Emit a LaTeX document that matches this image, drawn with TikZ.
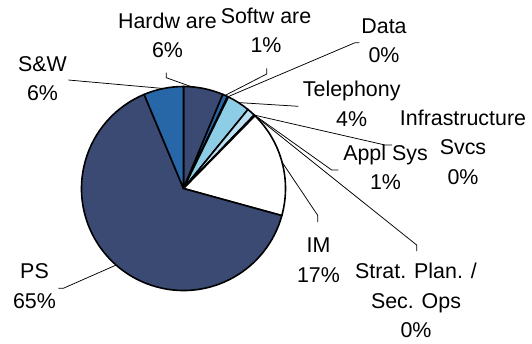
\documentclass[tikz,border=0pt]{standalone}
\usepackage{fontspec}
\setmainfont{Liberation Sans}
\usetikzlibrary{calc}

\definecolor{navy}{RGB}{58,74,115}
\definecolor{midblue}{RGB}{40,103,167}
\definecolor{skyblue}{RGB}{142,205,230}
\definecolor{paleblue}{RGB}{186,223,241}

\tikzset{
  wedge/.style={draw=black, line width=1.6pt, line join=round},
  leader/.style={draw=black, line width=0.75pt},
  % multi-line labels sit on the baseline of their last line
  lbl/.style={font=\fontsize{21.4}{29.5}\selectfont, align=center, anchor=base, inner sep=0pt}
}

% one wedge of the pie: start angle, end angle, fill colour
\newcommand{\piewedge}[3]{%
  \filldraw[wedge, fill=#3] (C) -- ($(C)+(#1:102)$) arc[start angle=#1, end angle=#2, radius=102] -- cycle;}

\begin{document}
\begin{tikzpicture}[x=1pt, y=-1pt]
\useasboundingbox (0,0) rectangle (532,343);
\coordinate (C) at (183.5,188.5);

% wedges, clockwise from twelve o'clock
\piewedge{-90}{-67.3}{navy}      % Hardware
\piewedge{-67.3}{-64.4}{midblue} % Software
\piewedge{-64.4}{-63.9}{white}   % Data
\piewedge{-63.9}{-50.8}{skyblue} % Telephony
\piewedge{-50.8}{-46.1}{paleblue}% Appl Sys
\piewedge{-46.1}{-45.8}{white}   % Infrastructure Svcs
\piewedge{-45.8}{-45.5}{white}   % Strat. Plan. / Sec. Ops
\piewedge{-45.5}{15.4}{white}    % IM
\piewedge{15.4}{247.3}{navy}     % PS
\piewedge{247.3}{270}{midblue}   % S&W

% labels
\node[lbl] (hw)   at (167.5,57.8)  {Hardw are\\6\%};
\node[lbl] (sw)   at (266,52.8)    {Softw are\\1\%};
\node[lbl] (data) at (384,62.8)    {Data\\0\%};
\node[lbl] (tel)  at (351.7,126.2) {Telephony\\4\%};
\node[lbl] (inf)  at (463,184)     {Infrastructure\\Svcs\\0\%};
\node[lbl] (appl) at (385.5,189.5) {Appl Sys\\1\%};
\node[lbl] (im)   at (318.5,282)   {IM\\17\%};
\node[lbl] (sp)   at (416,337.5)   {Strat. Plan. /\\Sec. Ops\\0\%};
\node[lbl] (ps)   at (34.5,308)    {PS\\65\%};
\node[lbl] (saw)  at (42.5,100.5)  {S\&W\\6\%};

% leader line end points on the rim
\coordinate (hwR)   at ($(C)+(-85.4:102)$);
\coordinate (swR)   at ($(C)+(-65.9:102)$);
\coordinate (dataR) at ($(C)+(-64.15:102)$);
\coordinate (telR)  at ($(C)+(-57.4:102)$);
\coordinate (applR) at ($(C)+(-46.5:102)$);
\coordinate (infR)  at ($(C)+(-46.0:102)$);
\coordinate (spR)   at ($(C)+(-45.6:102)$);
\coordinate (imR)   at ($(C)+(-15:102)$);
\coordinate (psR)   at ($(C)+(131.35:102)$);
\coordinate (sawR)  at ($(C)+(258.65:102)$);

% leader line ends beside the labels
\coordinate (hwA) at (166.3,72.7);   \coordinate (hwB) at (166.3,77.7);
\coordinate (swA) at (266.7,68.3);   \coordinate (swB) at (266.7,74);
\coordinate (dataA) at (359.3,42.7); \coordinate (dataB) at (355,42.7);
\coordinate (telA) at (298.3,106.3);
\coordinate (applA) at (338.3,170);  \coordinate (applB) at (331.7,170);
\coordinate (infA) at (392,145);     \coordinate (infB) at (385,145);
\coordinate (spA) at (416.7,251);    \coordinate (spB) at (416.7,245);
\coordinate (imA) at (317.8,222);    \coordinate (imB) at (317.8,215.5);
\coordinate (psA) at (58.3,288.3);   \coordinate (psB) at (63.3,288.3);
\coordinate (sawA) at (68.3,80);

% leader lines
\draw[leader] (hwA) -- (hwB) -- (hwR);
\draw[leader] (swA) -- (swB) -- (swR);
\draw[leader] (dataA) -- (dataB) -- (dataR);
\draw[leader] (telA) -- (telR);
\draw[leader] (applA) -- (applB) -- (applR);
\draw[leader] (infA) -- (infB) -- (infR);
\draw[leader] (spA) -- (spB) -- (spR);
\draw[leader] (imA) -- (imB) -- (imR);
\draw[leader] (psA) -- (psB) -- (psR);
\draw[leader] (sawA) -- (sawR);
\end{tikzpicture}
\end{document}
